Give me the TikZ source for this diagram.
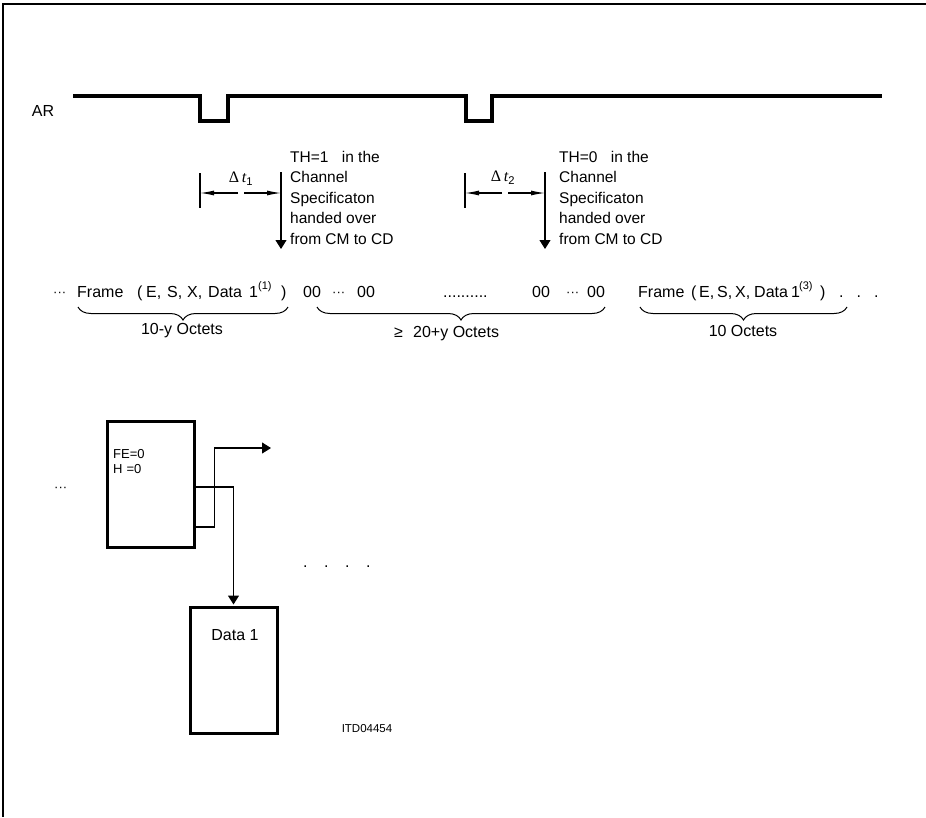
\documentclass[tikz,border=0pt]{standalone}
\usepackage{fontspec}
\setmainfont{Liberation Sans}
\newfontfamily\seriffont{Liberation Serif}
\usetikzlibrary{arrows.meta,decorations.pathreplacing,calc}
\tikzset{
  lbl/.style={inner sep=0pt, anchor=base west, font=\fontsize{16}{19}\selectfont},
  sup/.style={inner sep=0pt, anchor=base west, font=\fontsize{11}{13}\selectfont},
  small/.style={inner sep=0pt, anchor=base west, font=\fontsize{13}{15}\selectfont},
  note/.style={inner sep=0pt, anchor=north west, align=left, font=\fontsize{15.5}{20.5}\selectfont},
  thinline/.style={line width=1.1pt},
  brc/.style={line width=1pt, decorate, decoration={brace,mirror,amplitude=13pt}},
  dimarrow/.style={line width=1.1pt, -{Latex[length=14pt,width=5pt]}},
  downarrow/.style={line width=1.1pt, -{Triangle[length=9pt,width=11pt]}},
  box/.style={draw, line width=3pt, inner sep=0pt, minimum width=87pt, minimum height=126pt},
}
\begin{document}
\begin{tikzpicture}[x=1pt,y=-1pt]
\useasboundingbox (0,0) rectangle (926,817);
% frame
\draw[line width=1.5pt] (926,4) -- (3,4) -- (3,817);

% AR signal
\node[lbl, anchor=center] (ar) at (43,111) {AR};
\draw[line width=4pt, line join=miter] (73,96) -- (200,96) -- (200,121) -- (228,121) -- (228,96)
  -- (466,96) -- (466,121) -- (492,121) -- (492,96) -- (882,96);

% Delta t1
\coordinate (t1a) at (200,173); \coordinate (t1b) at (200,208);
\draw[thinline] (t1a) -- (t1b);
\coordinate (v1a) at (281,172); \coordinate (v1b) at (281,249);
\draw[downarrow] (v1a) -- (v1b);
\coordinate (d1l) at (238,193); \coordinate (d1r) at (244,193);
\coordinate (d1le) at (200,193); \coordinate (d1re) at (281,193);
\draw[dimarrow] (d1l) -- (d1le);
\draw[dimarrow] (d1r) -- (d1re);
\node[inner sep=0pt, font=\fontsize{16}{19}\selectfont] (dt1) at (241,179) {{\seriffont Δ\,\itshape t}\textsubscript{1}};
\node[note] (th1) at (290,151) {TH=1\hspace{9pt} in the\\Channel\\Specificaton\\handed over\\from CM to CD};

% Delta t2
\coordinate (t2a) at (465,173); \coordinate (t2b) at (465,208);
\draw[thinline] (t2a) -- (t2b);
\coordinate (v2a) at (545,172); \coordinate (v2b) at (545,249);
\draw[downarrow] (v2a) -- (v2b);
\coordinate (d2l) at (502,193); \coordinate (d2r) at (508,193);
\coordinate (d2le) at (465,193); \coordinate (d2re) at (545,193);
\draw[dimarrow] (d2l) -- (d2le);
\draw[dimarrow] (d2r) -- (d2re);
\node[inner sep=0pt, font=\fontsize{16}{19}\selectfont] (dt2) at (503,178) {{\seriffont Δ\,\itshape t}\textsubscript{2}};
\node[note] (th2) at (559,151) {TH=0\hspace{9pt} in the\\Channel\\Specificaton\\handed over\\from CM to CD};

% frame row
\node[small] (r0) at (53,296) {···};
\node[lbl] (r1) at (77,297) {Frame};
\node[lbl] (r2) at (137,297) {(};
\node[lbl] (r3) at (146,297) {E,};
\node[lbl] (r4) at (167,297) {S,};
\node[lbl] (r5) at (187,297) {X,};
\node[lbl] (r6) at (208,297) {Data};
\node[lbl] (r7) at (249,297) {1};
\node[sup] (r8) at (258,289) {(1)};
\node[lbl] (r9) at (281,297) {)};
\node[lbl] (z1) at (303,297) {00};
\node[small] (z2) at (332,296) {···};
\node[lbl] (z3) at (357,297) {00};
\node[lbl] (z4) at (443,297) {..........};
\node[lbl] (z5) at (532,297) {00};
\node[small] (z6) at (566,296) {···};
\node[lbl] (z7) at (587,297) {00};
\node[lbl] (s1) at (638,297) {Frame};
\node[lbl] (s2) at (691,297) {(};
\node[lbl] (s3) at (699,297) {E,};
\node[lbl] (s4) at (717,297) {S,};
\node[lbl] (s5) at (735,297) {X,};
\node[lbl] (s6) at (754,297) {Data};
\node[lbl] (s7) at (791,297) {1};
\node[sup] (s8) at (799,289) {(3)};
\node[lbl] (s9) at (820,297) {)};
\node[lbl] (s10) at (839,297) {.\hspace{13pt}.\hspace{13pt}.};

% braces
\coordinate (b1s) at (78,307); \coordinate (b1e) at (288,307);
\draw[brc] (b1s) -- (b1e);
\coordinate (b2s) at (317,307); \coordinate (b2e) at (605,307);
\draw[brc] (b2s) -- (b2e);
\coordinate (b3s) at (640,307); \coordinate (b3e) at (847,307);
\draw[brc] (b3s) -- (b3e);
\node[lbl, anchor=center] (o1) at (182,331) {10-y Octets};
\node[lbl, anchor=base west] (o2a) at (394,337) {≥};
\node[lbl, anchor=base west] (o2b) at (413,337) {20+y Octets};
\node[lbl, anchor=center] (o3) at (743,331) {10 Octets};

% lower part
\node[small] (ldots) at (54,491) {···};
\node[box] (bx1) at (150.5,484) {};
\node[small] (fe) at (113,458) {FE=0};
\node[small] (h0) at (113,473) {H\hspace{4pt}=0};
\node[box] (bx2) at (233.5,670) {};
\node[lbl, anchor=center] (d1) at (235,635) {Data 1};
\coordinate (outr) at (271,448);
\draw[downarrow] ([yshift=-43pt]bx1.east) -- ++(19,0) |- (outr);
\draw[downarrow, shorten >=1pt] ([yshift=-3pt]bx1.east) -| (bx2.north);
\node[lbl] (pdots) at (303,567) {.\hspace{16.5pt}.\hspace{16.5pt}.\hspace{16.5pt}.};
\node[inner sep=0pt, font=\fontsize{11.5}{13}\selectfont] (itd) at (367,729) {ITD04454};
\end{tikzpicture}
\end{document}
